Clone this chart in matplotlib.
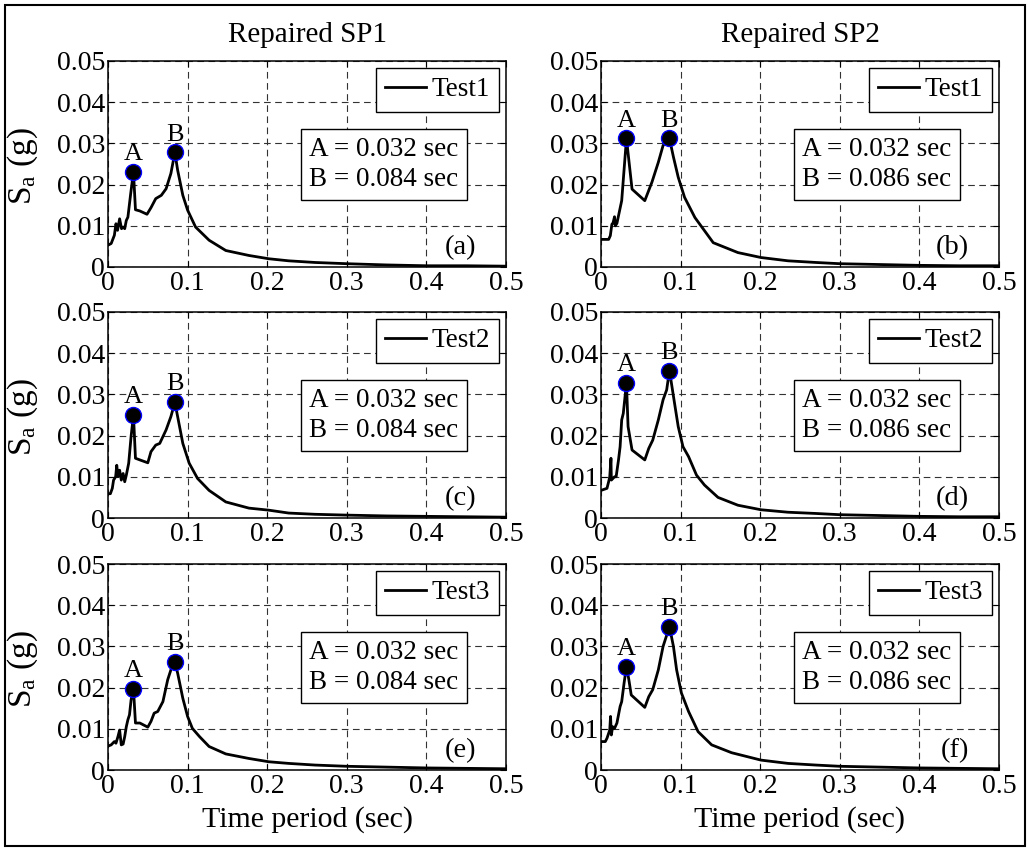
"""Spectral acceleration of repaired specimens SP1 / SP2 for three tests."""

import matplotlib
matplotlib.use("Agg")
import matplotlib.pyplot as plt
from matplotlib.patches import Rectangle

plt.rcParams["font.family"] = ["Liberation Serif", "DejaVu Serif"]
plt.rcParams["mathtext.fontset"] = "custom"
plt.rcParams["mathtext.rm"] = "Liberation Serif"
plt.rcParams["mathtext.it"] = "Liberation Serif:italic"

COL_TITLES = ["Repaired SP1", "Repaired SP2"]
TESTS = ["Test1", "Test2", "Test3"]
PANEL_TAGS = ["(a)", "(b)", "(c)", "(d)", "(e)", "(f)"]
X_TICKS = [0, 0.1, 0.2, 0.3, 0.4, 0.5]
X_TICK_LABELS = ["0", "0.1", "0.2", "0.3", "0.4", "0.5"]
Y_TICKS = [0, 0.01, 0.02, 0.03, 0.04, 0.05]
Y_TICK_LABELS = ["0", "0.01", "0.02", "0.03", "0.04", "0.05"]

# curves, panel order (a)..(f)
T_A = [0, 0.004, 0.008, 0.010, 0.012, 0.0146, 0.017, 0.019, 0.021, 0.023, 0.025, 0.0285, 0.032,
       0.0345, 0.040, 0.049, 0.054, 0.060, 0.067, 0.073, 0.079, 0.084, 0.0875, 0.094, 0.100, 0.110,
       0.127, 0.148, 0.177, 0.202, 0.227, 0.26, 0.30, 0.35, 0.40, 0.45, 0.50]
SA_A = [0.0053, 0.0057, 0.0077, 0.0105, 0.0089, 0.0117, 0.0093, 0.0097, 0.0093, 0.0113, 0.0121, 0.0178, 0.0231,
        0.0139, 0.0136, 0.0128, 0.0144, 0.0166, 0.0174, 0.0190, 0.0227, 0.0278, 0.0235, 0.0174, 0.0138, 0.0097,
        0.0065, 0.0040, 0.0028, 0.0020, 0.0015, 0.0011, 0.0008, 0.0005, 0.0003, 0.0003, 0.0002]

T_B = [0, 0.0096, 0.0117, 0.0137, 0.015, 0.017, 0.018, 0.020, 0.026, 0.032, 0.035, 0.039, 0.055, 0.064,
       0.072, 0.078, 0.086, 0.091, 0.097, 0.105, 0.118, 0.141, 0.172, 0.201, 0.235, 0.27, 0.30, 0.35,
       0.40, 0.45, 0.50]
SA_B = [0.0067, 0.0067, 0.0076, 0.0104, 0.0106, 0.0122, 0.0100, 0.0106, 0.0161, 0.0312, 0.0259, 0.0189, 0.0161, 0.0206,
        0.0254, 0.0295, 0.0312, 0.0267, 0.0218, 0.0169, 0.0120, 0.0059, 0.0035, 0.0023, 0.0015, 0.0011, 0.0008, 0.0006,
        0.0004, 0.0003, 0.0003]

T_C = [0, 0.003, 0.0054, 0.007, 0.0096, 0.011, 0.0125, 0.0146, 0.0167, 0.019, 0.021, 0.023, 0.026, 0.029,
       0.032, 0.0345, 0.040, 0.050, 0.054, 0.060, 0.065, 0.073, 0.079, 0.084, 0.0875, 0.094, 0.102, 0.1125,
       0.127, 0.148, 0.177, 0.202, 0.227, 0.26, 0.30, 0.35, 0.40, 0.45, 0.50]
SA_C = [0.0059, 0.0059, 0.0072, 0.0092, 0.0100, 0.0128, 0.0100, 0.0116, 0.0092, 0.0108, 0.0088, 0.0104, 0.0133, 0.0198,
        0.0250, 0.0145, 0.0141, 0.0134, 0.0161, 0.0177, 0.0181, 0.0214, 0.0246, 0.0281, 0.0246, 0.0181, 0.0133, 0.0096,
        0.0067, 0.0039, 0.0024, 0.0019, 0.0012, 0.0009, 0.0007, 0.0005, 0.0004, 0.0003, 0.0002]

T_D = [0, 0.0075, 0.0096, 0.011, 0.0125, 0.013, 0.015, 0.017, 0.019, 0.022, 0.024, 0.026, 0.028, 0.032,
       0.034, 0.039, 0.055, 0.060, 0.065, 0.072, 0.078, 0.0825, 0.086, 0.093, 0.097, 0.103, 0.110, 0.120,
       0.130, 0.147, 0.172, 0.201, 0.235, 0.27, 0.30, 0.35, 0.40, 0.45, 0.50]
SA_D = [0.0067, 0.0072, 0.0088, 0.0100, 0.0145, 0.0092, 0.0096, 0.0100, 0.0100, 0.0141, 0.0173, 0.0238, 0.0254, 0.0328,
        0.0222, 0.0165, 0.0141, 0.0169, 0.0189, 0.0238, 0.0287, 0.0311, 0.0358, 0.0271, 0.0222, 0.0173, 0.0149, 0.0104,
        0.0080, 0.0050, 0.0031, 0.0020, 0.0014, 0.0011, 0.0008, 0.0006, 0.0004, 0.0003, 0.0003]

T_E = [0, 0.004, 0.008, 0.010, 0.0125, 0.0146, 0.0167, 0.019, 0.021, 0.023, 0.025, 0.027, 0.029, 0.032,
       0.0345, 0.040, 0.050, 0.054, 0.058, 0.0625, 0.069, 0.075, 0.079, 0.084, 0.0875, 0.094, 0.100, 0.106,
       0.115, 0.127, 0.148, 0.177, 0.202, 0.227, 0.26, 0.30, 0.35, 0.40, 0.45, 0.50]
SA_E = [0.0058, 0.0061, 0.0069, 0.0065, 0.0081, 0.0097, 0.0061, 0.0063, 0.0081, 0.0105, 0.0122, 0.0134, 0.0170, 0.0197,
        0.0114, 0.0114, 0.0104, 0.0118, 0.0138, 0.0142, 0.0166, 0.0219, 0.0243, 0.0262, 0.0235, 0.0174, 0.0130, 0.0101,
        0.0081, 0.0057, 0.0039, 0.0028, 0.0020, 0.0016, 0.0012, 0.0009, 0.0007, 0.0005, 0.0004, 0.0003]

T_F = [0, 0.0054, 0.0075, 0.0096, 0.011, 0.012, 0.013, 0.0146, 0.017, 0.020, 0.024, 0.026, 0.029, 0.032,
       0.035, 0.038, 0.055, 0.060, 0.065, 0.072, 0.078, 0.086, 0.091, 0.095, 0.101, 0.110, 0.122, 0.139,
       0.164, 0.201, 0.235, 0.27, 0.30, 0.35, 0.40, 0.45, 0.50]
SA_F = [0.0069, 0.0069, 0.0077, 0.0089, 0.0097, 0.0130, 0.0085, 0.0105, 0.0101, 0.0114, 0.0154, 0.0166, 0.0211, 0.0251,
        0.0219, 0.0182, 0.0152, 0.0178, 0.0195, 0.0243, 0.0300, 0.0348, 0.0300, 0.0243, 0.0187, 0.0142, 0.0093, 0.0061,
        0.0042, 0.0024, 0.0016, 0.0012, 0.0009, 0.0007, 0.0005, 0.0004, 0.0003]

PERIODS = [T_A, T_B, T_C, T_D, T_E, T_F]
SPECTRA = [SA_A, SA_B, SA_C, SA_D, SA_E, SA_F]

PEAK_A_T = [0.032, 0.032, 0.032, 0.032, 0.032, 0.032]
PEAK_B_T = [0.084, 0.086, 0.084, 0.086, 0.084, 0.086]
PEAK_A_SA = [0.0231, 0.0312, 0.0250, 0.0328, 0.0197, 0.0251]
PEAK_B_SA = [0.0278, 0.0312, 0.0281, 0.0358, 0.0262, 0.0348]
PEAK_A_LABEL = ["0.032", "0.032", "0.032", "0.032", "0.032", "0.032"]
PEAK_B_LABEL = ["0.084", "0.086", "0.084", "0.086", "0.084", "0.086"]

W, H = 1028, 848
fig = plt.figure(figsize=(W / 100, H / 100), dpi=100)

col_left = [108, 601]
col_width = 398
row_top = [61, 312, 564]
row_height = 206

for k in range(6):
    row, col = divmod(k, 2)
    ax = fig.add_axes([col_left[col] / W, 1 - (row_top[row] + row_height) / H,
                       col_width / W, row_height / H])

    ax.plot(PERIODS[k], SPECTRA[k], color="k", lw=2.0, label=TESTS[row], zorder=3)
    for t, sa, name in [(PEAK_A_T[k], PEAK_A_SA[k], "A"), (PEAK_B_T[k], PEAK_B_SA[k], "B")]:
        ax.plot(t, sa, "o", ms=11.5, mfc="k", mec="b", mew=1.0, zorder=4)
        ax.annotate(name, (t, sa), xytext=(0, 5), textcoords="offset points",
                    ha="center", va="bottom", fontsize=19, zorder=5)

    ax.set_xlim(0, 0.5)
    ax.set_ylim(0, 0.05)
    ax.set_xticks(X_TICKS, X_TICK_LABELS)
    ax.set_yticks(Y_TICKS, Y_TICK_LABELS)
    ax.tick_params(direction="in", length=4, width=0.8, labelsize=20, pad=2,
                   top=True, right=True)
    ax.tick_params(axis="x", pad=3)
    ax.grid(True, color="0.2", lw=0.8, linestyle=(0, (6, 4)))
    for sp in ax.spines.values():
        sp.set_linewidth(1.1)

    leg = ax.legend(loc="upper right", fontsize=19.5, handlelength=1.5, handletextpad=0.2,
                    borderpad=0.35, borderaxespad=0.25, fancybox=False, framealpha=1,
                    edgecolor="k")
    leg.get_frame().set_linewidth(1.0)

    ax.text(0.506, 0.498, f"A = {PEAK_A_LABEL[k]} sec\nB = {PEAK_B_LABEL[k]} sec",
            transform=ax.transAxes, ha="left", va="center", fontsize=19.5, linespacing=1.25,
            bbox=dict(boxstyle="square,pad=0.3", fc="white", ec="k", lw=1.0), zorder=6)
    ax.text(0.925, 0.092, PANEL_TAGS[k], transform=ax.transAxes, ha="right", va="center",
            fontsize=20.5, zorder=6)

    if row == 0:
        ax.set_title(COL_TITLES[col], fontsize=21, pad=14)
    if col == 0:
        ax.set_ylabel(r"$\mathrm{S_a}$ (g)", fontsize=24)
        ax.yaxis.set_label_coords(-0.17, 0.49)
    if row == 2:
        ax.set_xlabel("Time period (sec)", fontsize=21.5, labelpad=5)

fig.patches.append(Rectangle((5 / W, 2 / H), 1020 / W, 841 / H, transform=fig.transFigure,
                             fill=False, ec="k", lw=1.5))

fig.savefig("out.png", dpi=100)
